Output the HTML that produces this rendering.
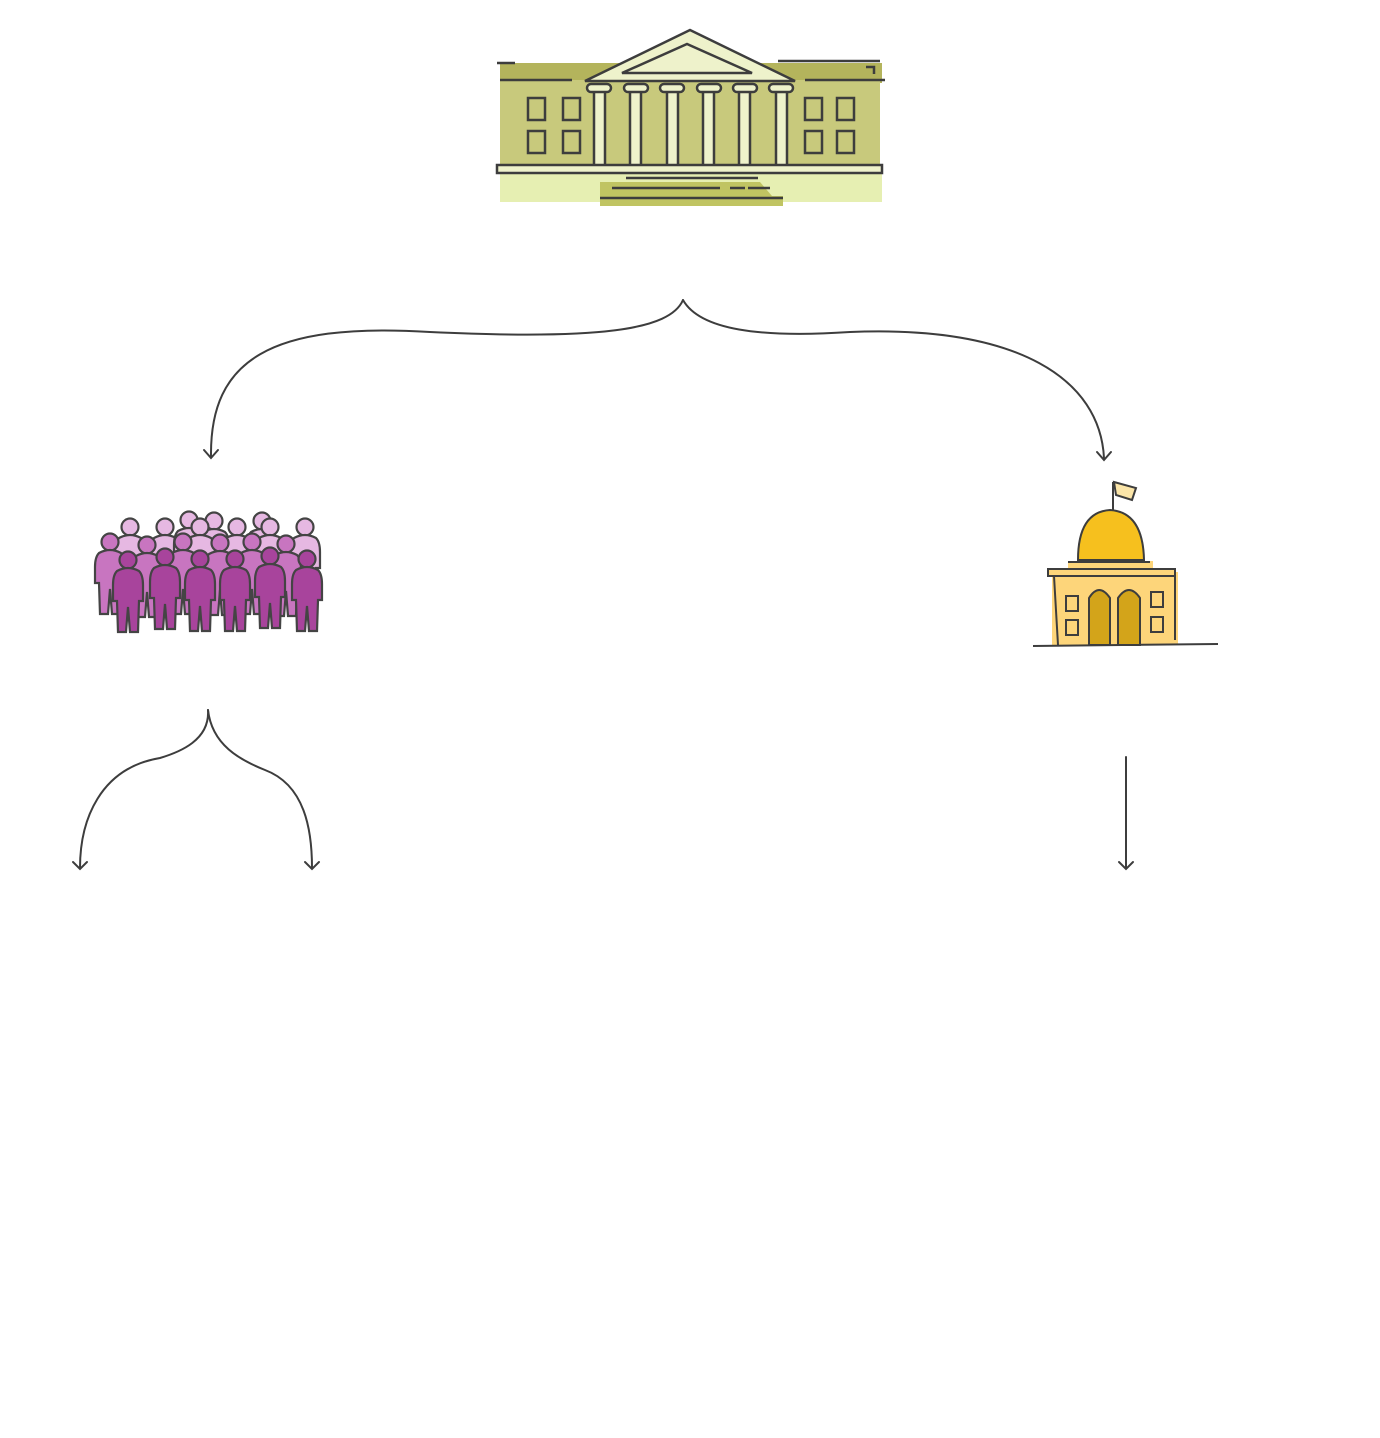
<!DOCTYPE html>
<html><head><meta charset="utf-8"><style>html,body{margin:0;padding:0;background:#fff}svg{display:block}</style></head>
<body>
<svg width="1380" height="1438" viewBox="0 0 1380 1438" xmlns="http://www.w3.org/2000/svg">
<defs>
<g id="p">
<circle cx="0" cy="9" r="8.5"/>
<path d="M-11 20 Q0 14 11 20 Q15 24 15 34 L15 50 L11 50 L10 81 L2 81 L0 56 L-2 81 L-10 81 L-11 50 L-15 50 L-15 34 Q-15 24 -11 20Z"/>
</g>
</defs>
<!-- Courthouse -->
<g stroke="#3d3d3d" stroke-width="2.5" fill="none">
<rect x="500" y="168" width="382" height="34" fill="#e6efb2" stroke="none"/>
<rect x="500" y="63" width="382" height="20" fill="#b4b45c" stroke="none"/>
<rect x="500" y="80" width="380" height="86" fill="#c8c97c" stroke="none"/>
<polygon points="600,182 760,182 772,196 600,196" fill="#c0c462" stroke="none"/>
<rect x="600" y="196" width="183" height="10" fill="#c0c462" stroke="none"/>
<polygon points="585,81 690,30 795,81" fill="#eef2cb"/>
<polygon points="622,73 687,44 752,73" fill="#eef2cb"/>
<path d="M497 63 H515 M500 80 H572 M805 80 H885 M778 61 H880 M866 67 H874 V74"/>
<g fill="#eef2cb">
<rect x="594" y="88" width="11" height="78"/><rect x="630" y="88" width="11" height="78"/>
<rect x="667" y="88" width="11" height="78"/><rect x="703" y="88" width="11" height="78"/>
<rect x="739" y="88" width="11" height="78"/><rect x="776" y="88" width="11" height="78"/>
<rect x="587" y="84" width="24" height="8" rx="4"/><rect x="624" y="84" width="24" height="8" rx="4"/>
<rect x="660" y="84" width="24" height="8" rx="4"/><rect x="697" y="84" width="24" height="8" rx="4"/>
<rect x="733" y="84" width="24" height="8" rx="4"/><rect x="769" y="84" width="24" height="8" rx="4"/>
</g>
<rect x="528" y="98" width="17" height="22"/><rect x="563" y="98" width="17" height="22"/>
<rect x="528" y="131" width="17" height="22"/><rect x="563" y="131" width="17" height="22"/>
<rect x="805" y="98" width="17" height="22"/><rect x="837" y="98" width="17" height="22"/>
<rect x="805" y="131" width="17" height="22"/><rect x="837" y="131" width="17" height="22"/>
<rect x="497" y="165" width="385" height="8" fill="#eef2cb"/>
<path d="M626 178 H758 M612 188 H720 M730 188 H745 M748 188 H770 M600 198 H783"/>
</g>
<!-- connectors -->
<g stroke="#3d3d3d" stroke-width="2" fill="none" stroke-linecap="round">
<path d="M683 300 C670 330 600 340 430 332 C270 322 210 360 211 456"/>
<path d="M204 450 L211 458 L218 450"/>
<path d="M683 300 C700 330 760 338 850 332 C1020 325 1100 380 1104 458"/>
<path d="M1097 452 L1104 460 L1111 452"/>
<path d="M208 710 C210 740 180 752 160 758 C100 768 80 820 80 868"/>
<path d="M73 862 L80 869 L87 862"/>
<path d="M208 710 C212 745 240 760 265 770 C305 785 312 830 312 868"/>
<path d="M305 862 L312 869 L319 862"/>
<path d="M1126 757 V868"/>
<path d="M1119 862 L1126 869 L1133 862"/>
</g>
<!-- People -->
<g stroke="#444" stroke-width="2.2">
<g fill="#e6b8e2">
<use href="#p" x="130" y="518"/><use href="#p" x="165" y="518"/><use href="#p" x="189" y="511"/>
<use href="#p" x="214" y="512"/><use href="#p" x="237" y="518"/><use href="#p" x="262" y="512"/>
<use href="#p" x="270" y="518"/><use href="#p" x="305" y="518"/><use href="#p" x="200" y="518"/>
</g>
<g fill="#c875c0">
<use href="#p" x="110" y="533"/><use href="#p" x="147" y="536"/><use href="#p" x="183" y="533"/>
<use href="#p" x="220" y="534"/><use href="#p" x="252" y="533"/><use href="#p" x="286" y="535"/>
</g>
<g fill="#a8449c">
<use href="#p" x="128" y="551"/><use href="#p" x="165" y="548"/><use href="#p" x="200" y="550"/>
<use href="#p" x="235" y="550"/><use href="#p" x="270" y="547"/><use href="#p" x="307" y="550"/>
</g>
</g>
<!-- Capitol -->
<g stroke="#3d3d3d" stroke-width="2" fill="none">
<rect x="1052" y="572" width="126" height="73" fill="#fdd57a" stroke="none"/>
<rect x="1068" y="561" width="85" height="9" fill="#fdd57a" stroke="none"/>
<path d="M1078 560 Q1078 512 1110 510 Q1143 512 1144 560 Z" fill="#f6c01e"/>
<path d="M1113 510 V482"/>
<path d="M1114 482 L1136 488 L1132 500 L1116 495 Z" fill="#fbe5a8"/>
<path d="M1068 562 H1150"/>
<rect x="1048" y="569" width="127" height="7" fill="#fdd57a"/>
<path d="M1054 576 L1058 645 M1175 576 V640 M1033 646 L1218 644"/>
<path d="M1089 645 V598 Q1099 582 1110 598 V645 Z" fill="#d3a41a"/>
<path d="M1118 645 V598 Q1129 582 1140 598 V645 Z" fill="#d3a41a"/>
<rect x="1066" y="596" width="12" height="15"/><rect x="1066" y="620" width="12" height="15"/>
<rect x="1151" y="592" width="12" height="15"/><rect x="1151" y="617" width="12" height="15"/>
</g>
</svg>
</body></html>
